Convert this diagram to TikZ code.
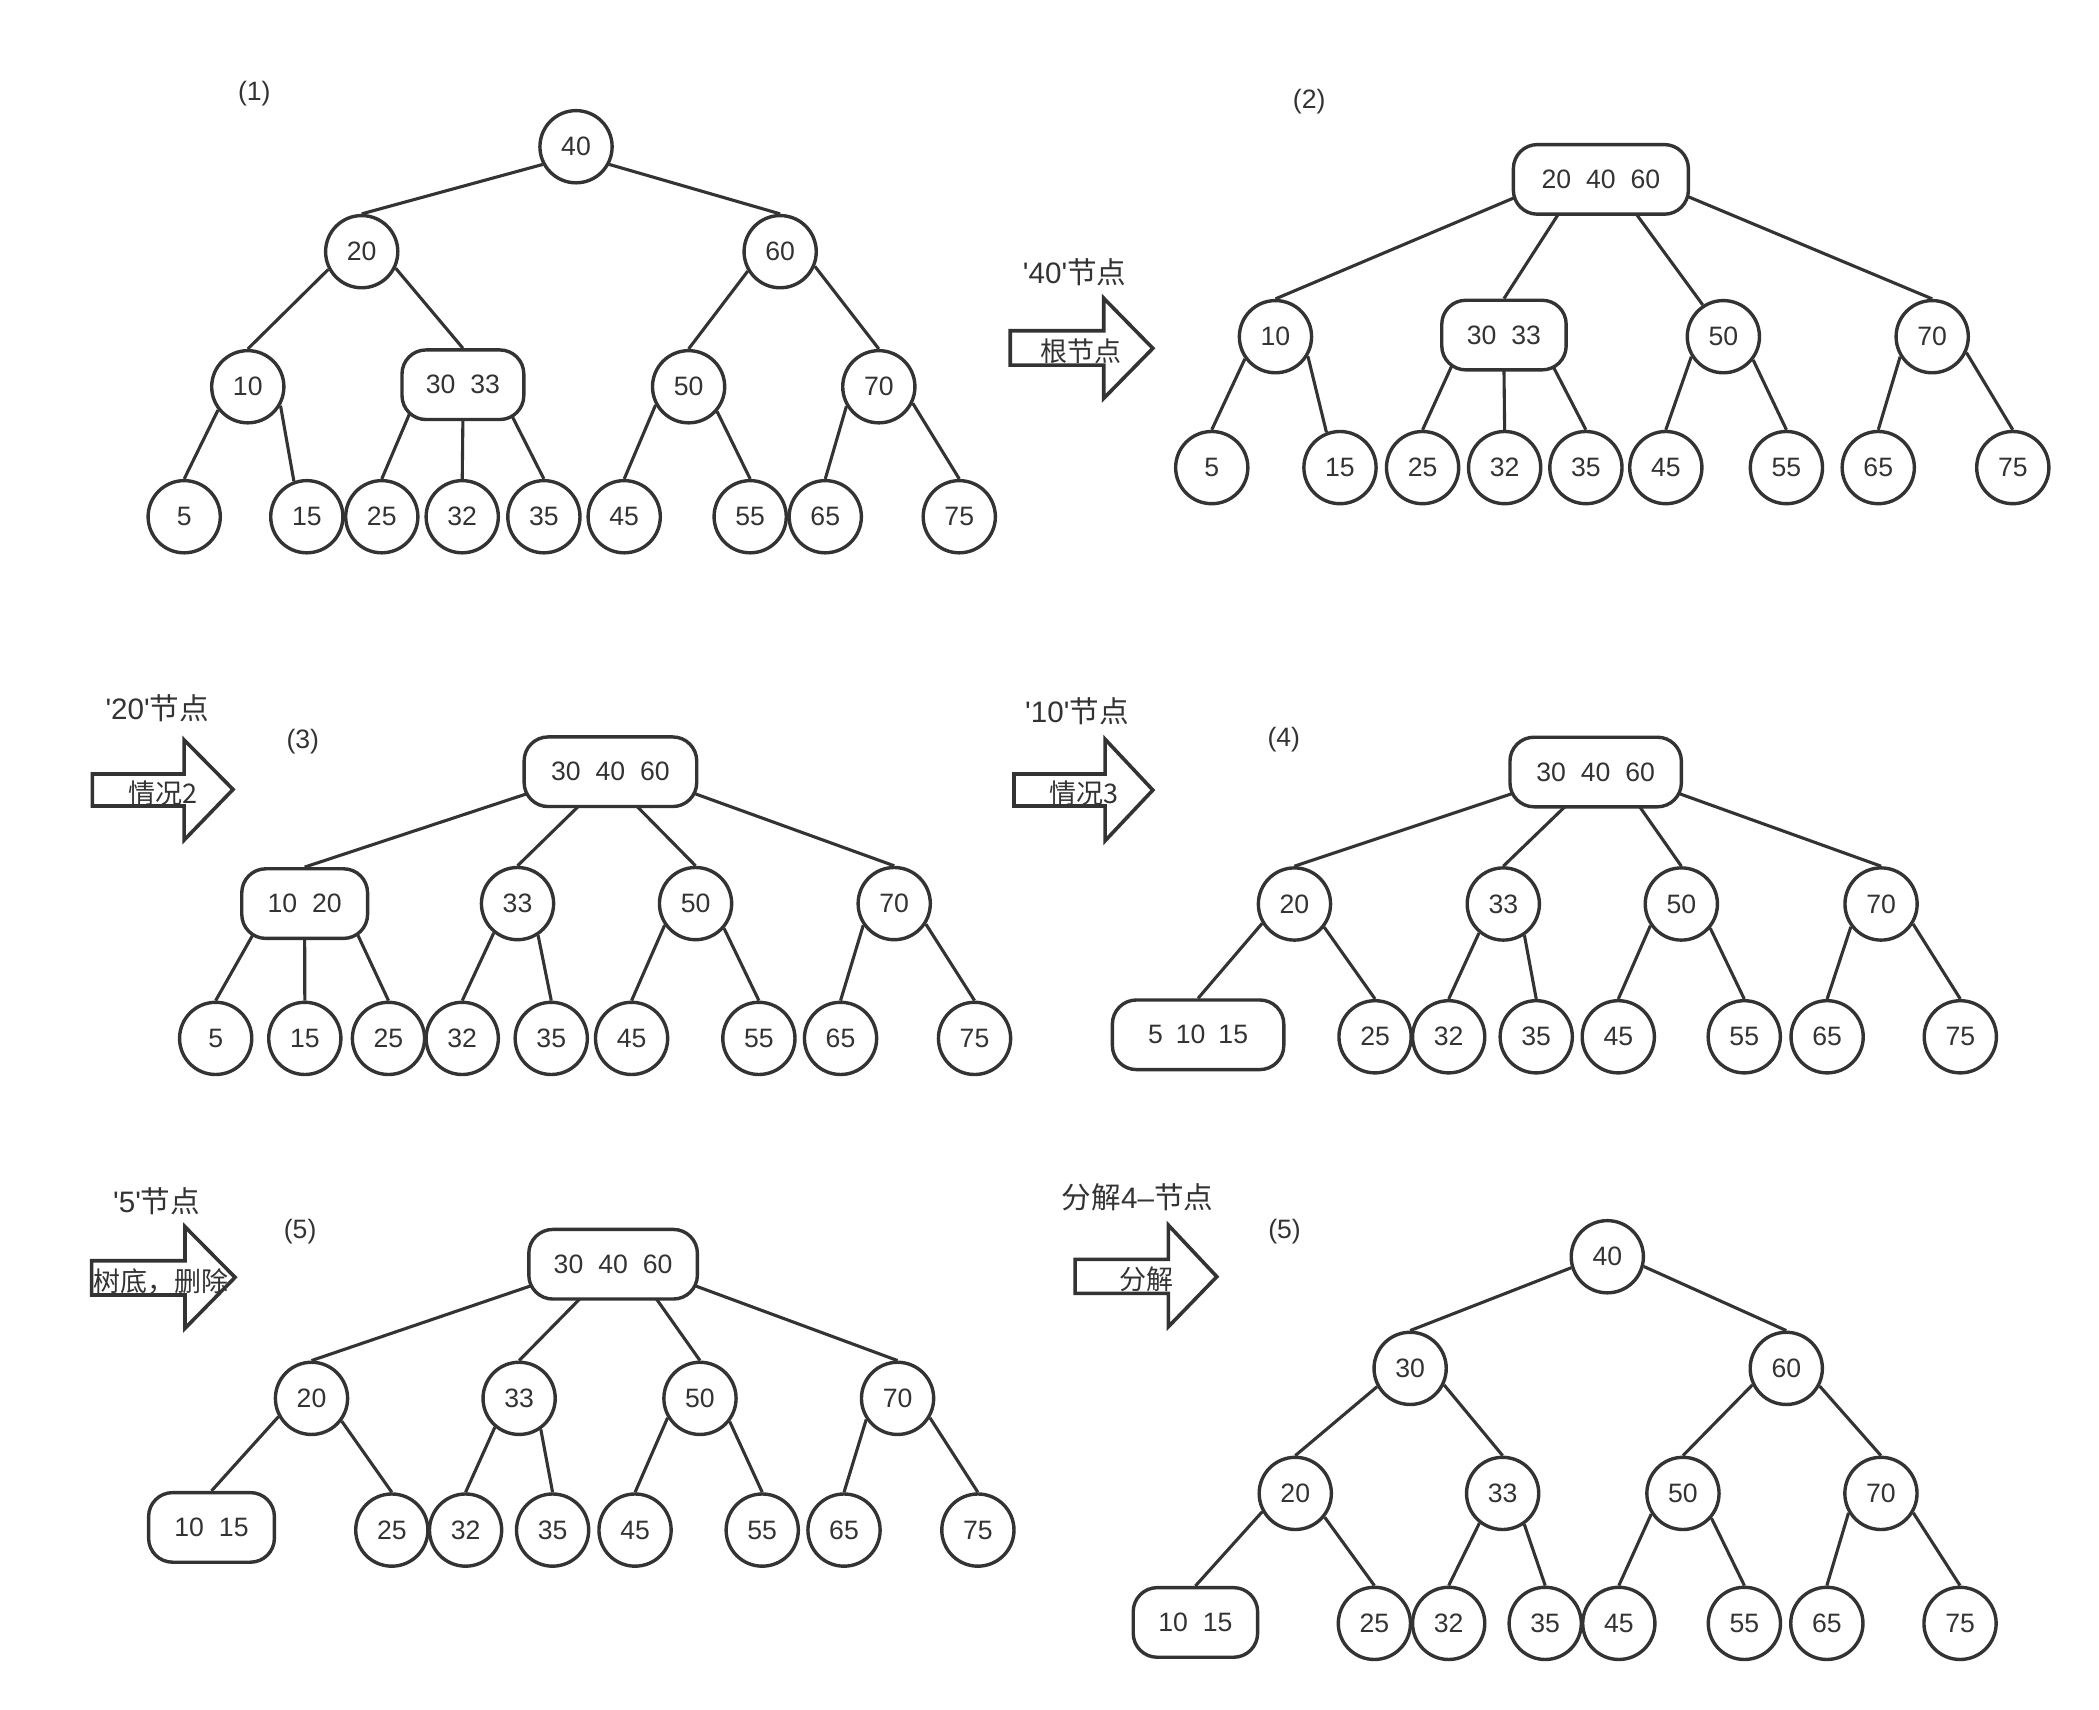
\documentclass[tikz,border=0pt]{standalone}
\usepackage{fontspec}
\setmainfont{Liberation Sans}
\newfontfamily\cjk{Noto Sans CJK SC}
\usetikzlibrary{calc,backgrounds}
\definecolor{ink}{HTML}{333333}
\newcommand\kg{\hspace{7.5pt}}
\newcommand\qt{\textquotesingle}
\newcommand\harrow[8]{\draw[arr] (#1,#2) -- (#4,#2) -- (#4,#5) -- (#7,#8) -- (#4,#6) -- (#4,#3) -- (#1,#3) -- cycle;}
\begin{document}
\begin{tikzpicture}[x=0.6693pt,y=-0.6693pt,
  cn/.style={circle,draw=ink,line width=1.7pt,fill=white,minimum size=36.1pt,inner sep=0pt,text=ink,font=\fontsize{13.3}{15}\selectfont},
  bx/.style={rectangle,rounded corners=12pt,draw=ink,line width=1.7pt,fill=white,minimum height=34.8pt,inner sep=0pt,text=ink,font=\fontsize{13.3}{15}\selectfont},
  ed/.style={draw=ink,line width=1.55pt},
  arr/.style={draw=ink,line width=1.8pt,fill=white,line join=miter},
  lab/.style={text=ink,font=\fontsize{13.3}{15}\selectfont,inner sep=0pt},
  stp/.style={text=ink,font=\fontsize{14.8}{17}\selectfont,inner sep=0pt},
  atx/.style={text=ink,font=\cjk\fontsize{13.5}{16}\selectfont,inner sep=0pt}]
\useasboundingbox (0,0) rectangle (1568,1277);

% ---------------- Panel 1 ----------------
\node[lab] (l1) at (190,69.7) {(1)};
\node[cn] (a40) at (430.3,109.6) {40};
\node[cn] (a20) at (270.2,188) {20};
\node[cn] (a60) at (582.8,188) {60};
\node[cn] (a10) at (185.1,288.9) {10};
\node[bx,minimum width=60.9pt] (aB) at (345.8,287.4) {30\kg33};
\node[cn] (a50) at (514.4,288.9) {50};
\node[cn] (a70) at (656.5,288.9) {70};
\foreach \n/\x in {5/137.6,15/229.2,25/285.2,32/345.3,35/406.3,45/466.3,55/560.4,65/616.5,75/716.6}
  \node[cn] (a\n) at (\x,386) {\n};

% ---------------- Panel 2 ----------------
\node[lab] (l2) at (978,76) {(2)};
\node[bx,minimum width=87.5pt] (bR) at (1195.9,134) {20\kg40\kg60};
\node[cn] (b10) at (952.8,251.5) {10};
\node[bx,minimum width=62.2pt] (bB) at (1123.5,250.3) {30\kg33};
\node[cn] (b50) at (1287.4,251.5) {50};
\node[cn] (b70) at (1443.4,251.5) {70};
\foreach \n/\x in {5/905.2,15/1001,25/1062.7,32/1124,35/1184.7,45/1244.4,55/1334.5,65/1403.1,75/1503.6}
  \node[cn] (b\n) at (\x,349.3) {\n};

% ---------------- Panel 3 ----------------
\node[lab] (l3) at (226.2,554) {(3)};
\node[bx,minimum width=86.3pt] (cR) at (456,576.5) {30\kg40\kg60};
\node[bx,minimum width=62.9pt] (cB) at (227.6,675) {10\kg20};
\node[cn] (c33) at (386.6,675) {33};
\node[cn] (c50) at (519.6,675) {50};
\node[cn] (c70) at (668,675) {70};
\foreach \n/\x in {5/161.1,15/227.7,25/290.2,32/345.3,35/411.8,45/471.8,55/566.9,65/627.9,75/728}
  \node[cn] (c\n) at (\x,775.7) {\n};

% ---------------- Panel 4 ----------------
\node[lab] (l4) at (959,552.8) {(4)};
\node[bx,minimum width=85.7pt] (dR) at (1192,576.7) {30\kg40\kg60};
\node[cn] (d20) at (967,675.3) {20};
\node[cn] (d33) at (1123,675.3) {33};
\node[cn] (d50) at (1256,675.3) {50};
\node[cn] (d70) at (1405.2,675.3) {70};
\node[bx,minimum width=85.7pt] (dB) at (895,773) {5\hspace{6.5pt}10\hspace{6.5pt}15};
\foreach \n/\x in {25/1027.2,32/1082.2,35/1147.6,45/1208.9,55/1303,65/1364.9,75/1464.4}
  \node[cn] (d\n) at (\x,774.5) {\n};

% ---------------- Panel 5 ----------------
\node[lab] (l5) at (224.2,920.1) {(5)};
\node[bx,minimum width=84.3pt] (eR) at (458,944.4) {30\kg40\kg60};
\node[cn] (e20) at (232.7,1044.6) {20};
\node[cn] (e33) at (387.8,1044.6) {33};
\node[cn] (e50) at (522.9,1044.6) {50};
\node[cn] (e70) at (670.5,1044.6) {70};
\node[bx,minimum width=62.9pt] (eB) at (158,1141) {10\kg15};
\foreach \n/\x in {25/292.7,32/347.8,35/412.8,45/474.4,55/569.4,65/630.5,75/730.5}
  \node[cn] (e\n) at (\x,1143) {\n};

% ---------------- Panel 6 ----------------
\node[lab] (l6) at (959.6,920.1) {(5)};
\node[cn] (f40) at (1200.7,938.8) {40};
\node[cn] (f30) at (1053.4,1022.2) {30};
\node[cn] (f60) at (1334.4,1022.2) {60};
\node[cn] (f20) at (967.6,1115.6) {20};
\node[cn] (f33) at (1122.5,1115.6) {33};
\node[cn] (f50) at (1257.2,1115.6) {50};
\node[cn] (f70) at (1405.1,1115.6) {70};
\node[bx,minimum width=62.2pt] (fB) at (893,1212) {10\kg15};
\foreach \n/\x in {25/1026.7,32/1082.2,35/1154.3,45/1209.3,55/1303.1,65/1364.7,75/1464.2}
  \node[cn] (f\n) at (\x,1212.7) {\n};

% ---------------- Arrows and step labels ----------------
\harrow{754.7}{247.1}{272.7}{824.5}{222.8}{297.6}{861.2}{260.2}
\harrow{69}{578.2}{602.1}{137.6}{552.8}{627.5}{174.1}{589.7}
\harrow{757.5}{578.2}{602.1}{825.6}{552.3}{628}{861.2}{590.2}
\harrow{68.5}{941.8}{967.4}{138.2}{916.4}{992.3}{175.6}{954.2}
\harrow{803.1}{940.8}{966.2}{872.8}{915.2}{991.1}{909}{953.7}

\node[atx] (t1) at (807.8,262.7) {根节点};
\node[atx] (t2) at (122,592.6) {情况2};
\node[atx] (t3) at (809.5,592.7) {情况3};
\node[atx] (t4) at (120.2,957.5) {树底，删除};
\node[atx] (t5) at (856.6,956) {分解};

\node[stp] (s1) at (802.8,203) {\qt40\qt{\cjk 节点}};
\node[stp] (s2) at (117.5,529) {\qt20\qt{\cjk 节点}};
\node[stp] (s3) at (804.5,531) {\qt10\qt{\cjk 节点}};
\node[stp] (s4) at (117,897.5) {\qt5\qt{\cjk 节点}};
\node[stp] (s5) at (849.8,894.6) {{\cjk 分解}4–{\cjk 节点}};

% ---------------- Edges (behind nodes) ----------------
\begin{scope}[on background layer]
\fill[white] (0,0) rectangle (1568,1277);
% panel 1
\draw[ed] (a40.208) -- (a20.north);
\draw[ed] (a40.332) -- (a60.north);
\draw[ed] (a20.208) -- (a10.north);
\draw[ed] (a20.334) -- (aB.north);
\draw[ed] (a60.211) -- (a50.north);
\draw[ed] (a60.337) -- (a70.north);
\draw[ed] (a10.218) -- (a5.north);
\draw[ed] (a10.330) -- (a15.110);
\draw[ed] ($(aB.center)+(-40,22)$) -- (a25.north);
\draw[ed] ($(aB.south)+(0,-2)$) -- (a32.north);
\draw[ed] ($(aB.center)+(37,24)$) -- (a35.north);
\draw[ed] (a50.209) -- (a45.north);
\draw[ed] (a50.319) -- (a55.north);
\draw[ed] (a70.211) -- (a65.north);
\draw[ed] (a70.334) -- (a75.north);
% panel 2
\draw[ed] ($(bR.center)+(-63,13)$) -- (b10.north);
\draw[ed] ($(bR.center)+(-30.5,24)$) -- (bB.north);
\draw[ed] ($(bR.center)+(25,24)$) -- (b50.123);
\draw[ed] ($(bR.center)+(63,12)$) -- (b70.north);
\draw[ed] (b10.216) -- (b5.north);
\draw[ed] (b10.329) -- (b15.111);
\draw[ed] ($(bB.center)+(-39,23)$) -- (b25.north);
\draw[ed] ($(bB.south)+(0,-2)$) -- (b32.north);
\draw[ed] ($(bB.center)+(37,24)$) -- (b35.north);
\draw[ed] (b50.212) -- (b45.north);
\draw[ed] (b50.322) -- (b55.north);
\draw[ed] (b70.212) -- (b65.north);
\draw[ed] (b70.335) -- (b75.north);
% panel 3
\draw[ed] ($(cR.center)+(-61,16)$) -- (cB.north);
\draw[ed] ($(cR.center)+(-22,24)$) -- (c33.north);
\draw[ed] ($(cR.center)+(18,24)$) -- (c50.north);
\draw[ed] ($(cR.center)+(62,16)$) -- (c70.north);
\draw[ed] ($(cB.center)+(-38.5,23)$) -- (c5.north);
\draw[ed] ($(cB.south)+(0,-2)$) -- (c15.north);
\draw[ed] ($(cB.center)+(39,22)$) -- (c25.north);
\draw[ed] (c33.231) -- (c32.north);
\draw[ed] (c33.303) -- (c35.north);
\draw[ed] (c50.215) -- (c45.north);
\draw[ed] (c50.319) -- (c55.north);
\draw[ed] (c70.215) -- (c65.north);
\draw[ed] (c70.327) -- (c75.north);
% panel 4
\draw[ed] ($(dR.center)+(-62,16)$) -- (d20.north);
\draw[ed] ($(dR.center)+(-21,24)$) -- (d33.north);
\draw[ed] ($(dR.center)+(31.5,24)$) -- (d50.north);
\draw[ed] ($(dR.center)+(62,16)$) -- (d70.north);
\draw[ed] (d20.211) -- (dB.north);
\draw[ed] (d20.322) -- (d25.north);
\draw[ed] (d33.230) -- (d32.north);
\draw[ed] (d33.304) -- (d35.north);
\draw[ed] (d50.215) -- (d45.north);
\draw[ed] (d50.320) -- (d55.north);
\draw[ed] (d70.217) -- (d65.north);
\draw[ed] (d70.328) -- (d75.north);
% panel 5
\draw[ed] ($(eR.center)+(-61,16)$) -- (e20.north);
\draw[ed] ($(eR.center)+(-23,24)$) -- (e33.north);
\draw[ed] ($(eR.center)+(31,24)$) -- (e50.north);
\draw[ed] ($(eR.center)+(61,16)$) -- (e70.north);
\draw[ed] (e20.209) -- (eB.north);
\draw[ed] (e20.323) -- (e25.north);
\draw[ed] (e33.230) -- (e32.north);
\draw[ed] (e33.305) -- (e35.north);
\draw[ed] (e50.211) -- (e45.north);
\draw[ed] (e50.322) -- (e55.north);
\draw[ed] (e70.214) -- (e65.north);
\draw[ed] (e70.329) -- (e75.north);
% panel 6
\draw[ed] (f40.197) -- (f30.north);
\draw[ed] (f40.345) -- (f60.north);
\draw[ed] (f30.209) -- (f20.north);
\draw[ed] (f30.334) -- (f33.north);
\draw[ed] (f60.206) -- (f50.north);
\draw[ed] (f60.332) -- (f70.north);
\draw[ed] (f20.209) -- (fB.north);
\draw[ed] (f20.321) -- (f25.north);
\draw[ed] (f33.232) -- (f32.north);
\draw[ed] (f33.305) -- (f35.north);
\draw[ed] (f50.213) -- (f45.north);
\draw[ed] (f50.319) -- (f55.north);
\draw[ed] (f70.211) -- (f65.north);
\draw[ed] (f70.329) -- (f75.north);
\end{scope}
\end{tikzpicture}
\end{document}
